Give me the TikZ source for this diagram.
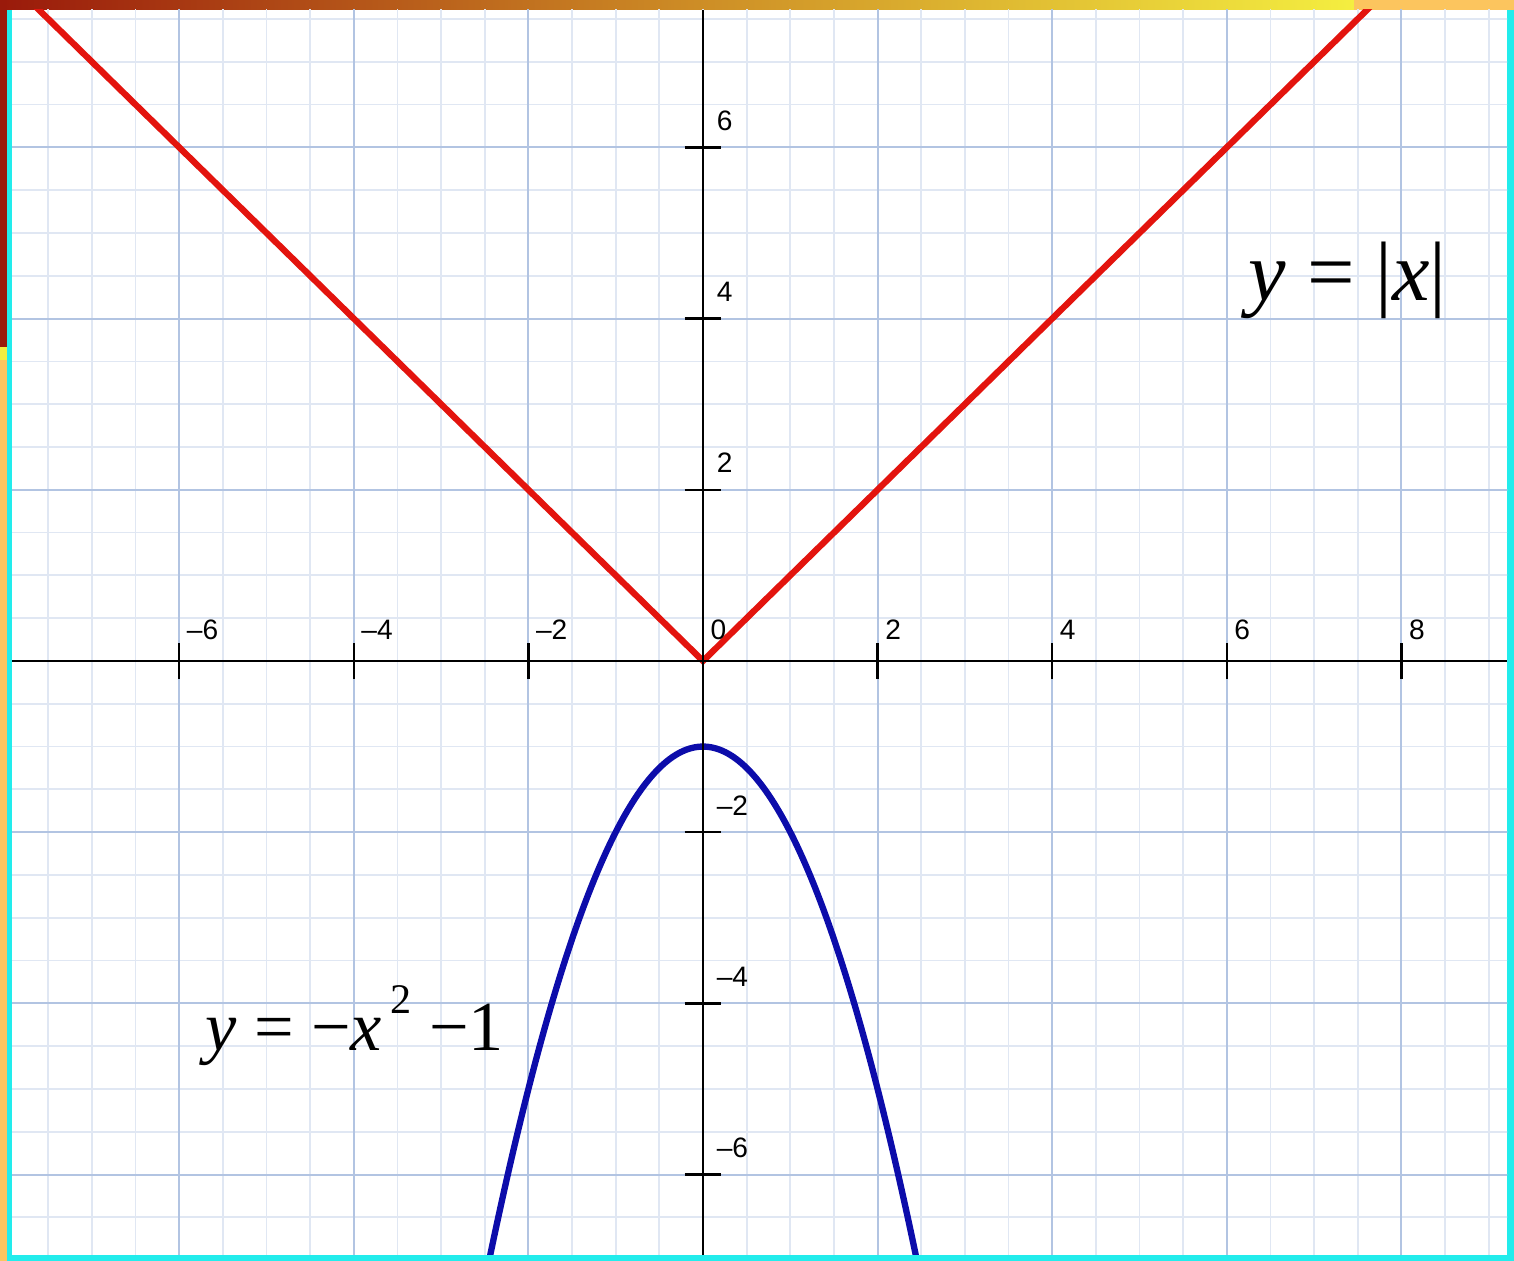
\documentclass[tikz,border=0pt]{standalone}
\usepackage{fontspec}
\setmainfont{Liberation Serif}
\setsansfont{Liberation Sans}
\usepackage{xcolor}
\usetikzlibrary{calc}
\definecolor{vred}{HTML}{E3140E}
\definecolor{pblue}{HTML}{0C0CAA}
\definecolor{majgrid}{HTML}{B2C4E2}
\definecolor{mingrid}{HTML}{E0E7F3}
\definecolor{rimcyan}{HTML}{22ECEC}
\definecolor{rimred}{HTML}{9A1A0B}
\definecolor{rimmid}{HTML}{CC8A25}
\definecolor{rimyel}{HTML}{F4EE40}
\definecolor{rimorange}{HTML}{FCC55E}
\tikzset{
  graph/.style={line width=1.8pt},
  axisline/.style={line width=0.7pt,black},
  numlbl/.style={font=\sffamily\fontsize{8}{9}\selectfont,anchor=south west,inner sep=0pt},
  formula/.style={anchor=base west,inner sep=0pt}
}

\begin{document}
\begin{tikzpicture}[x=0.873cm,y=0.856cm]
\useasboundingbox (-8.053,-7.009) rectangle (9.290,7.722);
% frame round the plot
\fill[rimcyan] (-8.053,-7.009) rectangle (9.290,7.722);
\shade[left color=rimred,right color=rimyel,middle color=rimmid] (-8.053,7.605) rectangle (7.457,7.722);
\fill[rimorange] (7.457,7.605) rectangle (9.290,7.722);
\fill[rimred] (-8.053,3.668) rectangle (-7.973,7.722);
\fill[rimyel] (-8.053,3.516) rectangle (-7.973,3.668);
\fill[rimorange] (-8.053,-7.009) rectangle (-7.973,3.516);
\fill[white] (-7.915,-6.939) rectangle (9.210,7.605);
% grid and graphs
\begin{scope}
\clip (-7.915,-6.939) rectangle (9.210,7.605);
\foreach \g in {-16,...,19} \draw[mingrid,line width=0.5pt] (\g/2,-7) -- (\g/2,8);
\foreach \g in {-14,...,16} \draw[mingrid,line width=0.5pt] (-8,\g/2) -- (9.5,\g/2);
\foreach \g in {-6,-4,-2,2,4,6,8} \draw[majgrid,line width=0.6pt] (\g,-7) -- (\g,8);
\foreach \g in {-6,-4,-2,2,4,6} \draw[majgrid,line width=0.6pt] (-8,\g) -- (9.5,\g);
\draw[graph,vred] (-8,8) -- (0,0) -- (8,8);
\draw[graph,pblue] plot[domain=-2.5:2.5,samples=80,smooth] (\x,{-\x*\x-1});
\end{scope}
% axes
\coordinate (xmin) at (-7.915,0);
\coordinate (xmax) at (9.210,0);
\coordinate (ymin) at (0,-6.939);
\coordinate (ymax) at (0,7.605);
\draw[axisline] (xmin) -- (xmax);
\draw[axisline] (ymin) -- (ymax);
\foreach \t/\s [count=\i] in {-6/–6,-4/–4,-2/–2,2/2,4/4,6/6,8/8}{
  \draw[axisline] (\t,-0.21) -- (\t,0.21);
  \node[numlbl] (xt\i) at (\t+0.08,0.245) {\s};
}
\node[numlbl] (xt0) at (0.08,0.245) {0};
\foreach \t/\s [count=\i] in {-6/–6,-4/–4,-2/–2,2/2,4/4,6/6}{
  \draw[axisline] (-0.21,\t) -- (0.21,\t);
  \node[numlbl] (yt\i) at (0.15,\t+0.19) {\s};
}
% formulas
\node[formula,font=\fontsize{24}{28}\selectfont] (absx) at (6.24,4.21) {\textit{y} = |\textit{x}|};
\node[formula,font=\fontsize{20}{24}\selectfont] (parab) at (-5.71,-4.55)
  {\textit{y} = −\textit{x}\hspace{0.12em}\raisebox{0.52em}{\fontsize{12}{12}\selectfont 2} −1};
\end{tikzpicture}
\end{document}
